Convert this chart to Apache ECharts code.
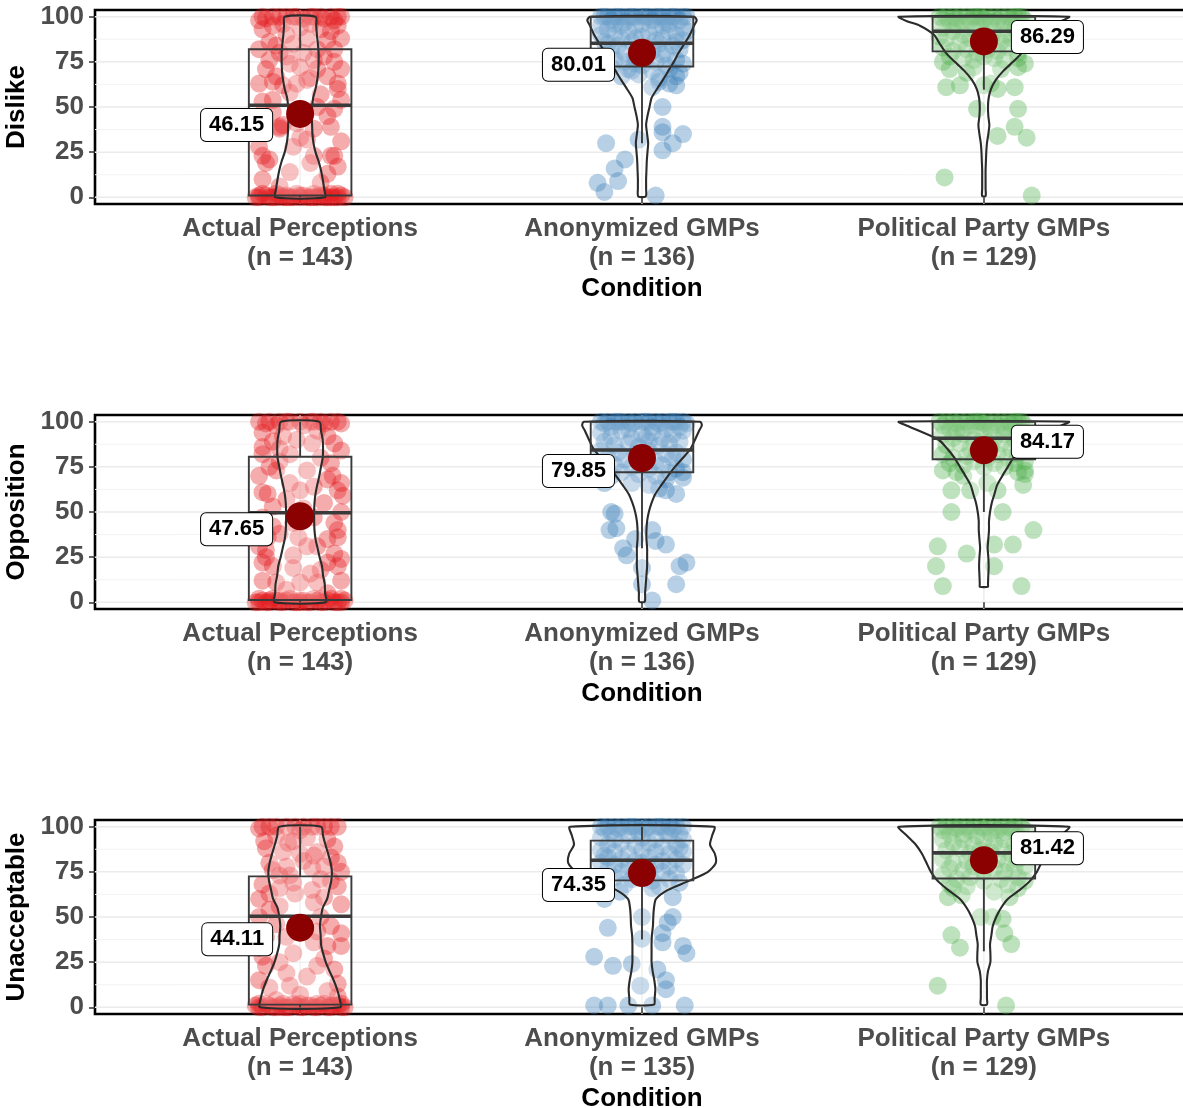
<!DOCTYPE html>
<html>
<head>
<meta charset="utf-8">
<script src="https://cdn.jsdelivr.net/npm/echarts@6/dist/echarts.min.js"></script>
<style>
  html, body { margin: 0; padding: 0; background: #ffffff; }
  #chart { width: 1183px; height: 1108px; }
</style>
</head>
<body>
<div id="chart"></div>
<script>
// ---- categories and labels ----
const conditions = ['Actual Perceptions', 'Anonymized GMPs', 'Political Party GMPs'];
const measures = ['Dislike', 'Opposition', 'Unacceptable'];
const yTicks = [0, 25, 50, 75, 100];
const yMinorTicks = [12.5, 37.5, 62.5, 87.5];

// ---- group sizes ----
const nDislike = [143, 136, 129];
const nOpposition = [143, 136, 129];
const nUnacceptable = [143, 135, 129];

// ---- group means ----
const meanDislike = [46.15, 80.01, 86.29];
const meanOpposition = [47.65, 79.85, 84.17];
const meanUnacceptable = [44.11, 74.35, 81.42];

// ---- boxplot summaries: [lower whisker, Q1, median, Q3, upper whisker] ----
const boxDislike = [[0, 1, 51, 82, 100], [30, 72.4, 85.3, 100, 100], [59.6, 80.8, 91.9, 100, 100]];
const boxOpposition = [[0, 1.3, 49.6, 80.6, 100], [30, 72, 84.3, 100, 100], [50, 79.2, 90.8, 100, 100]];
const boxUnacceptable = [[0, 1.5, 50.4, 72.5, 100], [37.5, 70.3, 81.4, 92.3, 100], [31, 71.3, 85.5, 100, 100]];

// ---- violin density profiles: [value, half width in x-axis units] ----
const violinDislikeActual = [[0,.072],[5,.070],[10,.066],[15,.061],[20,.054],[25,.045],[30,.039],[35,.036],[40,.035],[45,.034],[50,.035],[55,.038],[60,.045],[65,.050],[70,.053],[75,.054],[80,.054],[85,.052],[90,.049],[95,.047],[100,.045]];
const violinDislikeAnon = [[0.5,.011],[5,.012],[10,.012],[15,.013],[20,.014],[25,.016],[30,.018],[35,.015],[40,.012],[45,.016],[50,.022],[55,.028],[60,.044],[65,.061],[70,.077],[75,.093],[80,.107],[85,.124],[90,.140],[95,.152],[98,.160],[100,.152]];
const violinDislikeParty = [[0.7,.005],[5,.005],[10,.005],[15,.005],[20,.006],[25,.007],[30,.009],[35,.013],[40,.016],[45,.013],[50,.012],[55,.014],[60,.021],[65,.035],[70,.057],[75,.085],[80,.111],[85,.129],[90,.146],[95,.187],[97.5,.225],[100,.249]];

const violinOppositionActual = [[0,.075],[5,.073],[10,.072],[15,.067],[20,.064],[25,.057],[30,.051],[35,.045],[40,.042],[45,.041],[50,.041],[55,.042],[60,.045],[65,.050],[70,.056],[75,.061],[80,.066],[85,.067],[90,.066],[95,.061],[100,.056]];
const violinOppositionAnon = [[0.3,.008],[5,.009],[10,.011],[15,.013],[20,.015],[25,.015],[30,.015],[35,.013],[40,.013],[45,.015],[50,.020],[55,.028],[60,.039],[65,.057],[70,.076],[75,.096],[80,.120],[85,.142],[90,.155],[95,.167],[98,.175],[100,.170]];
const violinOppositionParty = [[8.6,.012],[10,.012],[15,.013],[20,.014],[25,.013],[30,.011],[35,.013],[40,.015],[45,.015],[50,.018],[55,.023],[60,.031],[65,.039],[70,.054],[75,.070],[80,.086],[85,.107],[90,.132],[95,.190],[98,.228],[100,.249]];

const violinUnacceptableActual = [[0,.117],[5,.115],[10,.108],[15,.098],[20,.086],[25,.075],[30,.067],[35,.061],[40,.060],[45,.058],[50,.061],[55,.066],[60,.079],[65,.085],[70,.091],[75,.093],[80,.089],[85,.082],[90,.074],[95,.067],[100,.061]];
const violinUnacceptableAnon = [[1.5,.035],[5,.037],[10,.039],[15,.036],[20,.031],[25,.028],[30,.028],[35,.028],[40,.029],[45,.032],[50,.033],[55,.035],[60,.041],[65,.076],[70,.137],[75,.193],[80,.216],[85,.213],[90,.199],[95,.205],[100,.211]];
const violinUnacceptableParty = [[1.5,.009],[5,.009],[10,.009],[15,.009],[20,.012],[25,.019],[30,.019],[35,.018],[40,.022],[45,.026],[50,.036],[55,.050],[60,.070],[65,.105],[70,.135],[75,.155],[80,.168],[85,.181],[90,.199],[95,.225],[100,.249]];

// ---- individual responses: [horizontal jitter, value] ----
const ptsDislikeActual = [
[-.11,100],[-.08,100],[-.04,100],[-.01,100],[.03,100],[.06,100],[.09,100],[.12,100],[-.10,99],[-.06,100],[.01,99],[.07,99],[.11,100],[-.02,100],[.04,100],[.10,98],[-.12,98],
[-.11,93],[-.08,95],[-.09,86],[-.07,84],[.09,92],[.11,95],[.08,87],[.10,82],[.12,71],[.11,63],[.11,60],[.08,67],[-.10,71],[-.12,63],[-.08,64],[-.07,67],[-.03,74],[0,72],[.02,65],[-.01,63],[.03,66],[.05,71],[-.04,78],[.04,76],[-.05,62],[-.11,53],[-.08,54],[-.06,39],[-.05,40],[.09,39],[.10,49],[.12,54],[.04,38],[.02,32],[-.11,23],[-.09,21],[-.10,19],[.03,19],[.04,23],[.10,23],[.11,17],[-.11,10],[-.03,14],[.08,13],[-.01,41],[-.06,38],[-.02,28],[.09,23],
[-.04,90],[.02,88],[.06,93],[-.02,85],[.05,82],[-.06,80],[.07,78],[-.09,76],[.10,75],[0,94],[-.05,96],[.03,96],[.12,88],[-.12,82],[.01,80],[-.03,58],[.06,57],[.08,45],[-.08,47],[.12,31],[-.12,28],[.06,8],[-.06,6],[0,33],[.05,50],
[-.12,0],[-.10,1],[-.08,0],[-.07,2],[-.05,0],[-.04,1],[-.02,0],[-.01,2],[0,0],[.01,1],[.03,0],[.04,2],[.05,0],[.07,1],[.08,0],[.09,2],[.11,0],[.12,1],[-.11,2],[-.09,0],[-.06,1],[-.03,0],[.02,0],[.06,1],[.10,0],[-.12,1],[.13,0],[-.13,0],[0,1],[-.07,0],[.07,0],[.11,2],[-.04,0],[.04,0],[.09,0]
];
const ptsDislikeAnon = [
[-.105,30],[-.01,32],[.06,39],[.06,36],[.12,35],[.09,30],[.06,26],[.06,50],[-.05,21],[-.08,16],[-.07,9],[-.13,8],[-.11,3],[.04,1],[.10,62],[.08,63],[.03,61],[.05,64],[-.03,70],[.11,69],
[-.12,100],[-.10,100],[-.08,100],[-.06,100],[-.04,100],[-.02,100],[0,100],[.02,100],[.04,100],[.06,100],[.08,100],[.10,100],[.12,100],[-.11,100],[-.07,100],[-.03,100],[.01,100],[.05,100],[.09,100],[.13,100],[-.09,98],[.03,98],[.11,98],[-.05,97],[.07,97],
[-.12,95],[-.10,93],[-.08,90],[-.06,88],[-.04,92],[-.02,95],[0,89],[.02,91],[.04,94],[.06,88],[.08,92],[.10,90],[.12,94],[-.11,86],[-.07,84],[-.03,86],[.01,83],[.05,85],[.09,84],[.12,87],[-.09,81],[-.05,80],[-.01,80],[.03,81],[.07,80],[.11,82],[-.12,90],[.13,92],[-.06,95],[0,96],[.06,95],[-.10,85],[.10,86],[-.02,88],[.04,87],[-.08,96],[.08,96],
[-.11,78],[-.08,76],[-.05,75],[-.02,74],[.01,77],[.04,75],[.07,73],[.10,76],[-.09,72],[-.04,71],[.03,70],[.08,71],[.12,74],[-.06,67],[-.01,68],[.05,66],[.10,67],[-.02,78],[.06,79],[-.12,73],[0,73]
];
const ptsDislikeParty = [
[-.115,11],[.14,1],[.04,34],[.09,39],[.125,33],[.10,49],[-.02,49],[-.11,61],[-.07,62],[0,62],[.04,60],[.09,61],[.02,63],[-.10,71],[-.05,69],[.05,71],[.10,72],[-.03,72],
[-.13,100],[-.11,100],[-.09,100],[-.07,100],[-.05,100],[-.03,100],[-.01,100],[.01,100],[.03,100],[.05,100],[.07,100],[.09,100],[.11,100],[-.12,99],[-.08,99],[-.04,98],[0,99],[.04,98],[.08,99],[.12,98],[-.10,97],[.02,97],[.06,96],[-.06,96],[-.02,100],[.10,100],
[-.12,94],[-.09,92],[-.06,90],[-.03,93],[0,91],[.03,92],[.06,90],[.09,93],[.12,91],[-.11,88],[-.07,86],[-.04,88],[-.01,85],[.02,87],[.05,86],[.08,88],[.11,85],[-.12,83],[-.09,81],[-.05,82],[-.02,80],[.01,82],[.04,81],[.07,83],[.10,80],[-.10,78],[-.06,77],[-.03,76],[0,78],[.03,77],[.06,76],[.10,77],[-.12,75],[.12,74],[-.08,95],[.08,95],[-.01,95],[.11,96],[-.13,89],[.13,88]
];

const ptsOppositionActual = [
[-.12,100],[-.09,100],[-.06,100],[-.03,100],[0,100],[.03,100],[.06,100],[.09,100],[.11,100],[-.10,99],[-.04,100],[.01,98],[.07,99],[.12,99],[-.07,98],[.04,100],
[-.11,94],[-.11,86],[-.08,89],[.08,92],[.10,88],[.12,84],[.035,88],[-.03,82],[-.11,82],[-.09,75],[-.07,73],[.095,70],[.11,62],[.125,59],[.12,66],[.08,68],[.02,73],[0,62],[-.03,66],[-.11,61],[-.095,60],[-.08,53],[-.095,36],[-.10,25],[-.11,22],[-.08,20],[-.10,29],[-.06,38],[-.005,36],[.02,31],[-.02,26],[.05,31],[.08,35],[.11,36],[.10,27],[.12,24],[.11,20],[.06,18],[.08,22],[0,11],[.05,11],[-.07,11],[-.11,12],
[-.05,92],[.05,95],[-.01,90],[.06,80],[-.06,78],[.09,77],[-.12,70],[.04,64],[-.04,57],[.07,55],[.12,50],[-.11,47],[.10,44],[-.02,44],[.04,47],[-.08,42],[.01,52],[-.12,31],[.12,12],[-.04,7],[.08,5],[.03,16],[-.02,19],[.11,40],[-.06,85],
[-.13,0],[-.11,1],[-.09,0],[-.07,1],[-.05,0],[-.03,2],[-.01,0],[.01,1],[.03,0],[.05,1],[.07,0],[.09,2],[.11,0],[.13,1],[-.12,2],[-.10,0],[-.08,2],[-.06,0],[-.04,1],[-.02,0],[0,1],[.02,0],[.04,2],[.06,0],[.08,1],[.10,0],[.12,0],[-.12,0],[.12,2],[-.06,1],[.06,2],[0,0],[-.09,1]
];
const ptsOppositionAnon = [
[.03,1],[.10,10],[0,10],[.13,22],[.11,20],[0,19],[-.045,26],[-.055,30],[-.02,35],[.03,40],[.04,34],[.07,32],[-.095,40],[-.075,41],[-.09,50],[-.08,49],[-.11,66],[.07,62],[.10,60],[.05,63],[.12,69],[.02,65],[-.03,66],
[-.12,100],[-.10,100],[-.08,100],[-.06,100],[-.04,100],[-.02,100],[0,100],[.02,100],[.04,100],[.06,100],[.08,100],[.10,100],[.12,100],[-.11,99],[-.07,100],[-.03,99],[.01,100],[.05,99],[.09,100],[.13,99],[-.09,97],[.03,97],[.11,97],
[-.12,94],[-.09,92],[-.06,95],[-.03,91],[0,93],[.03,94],[.06,91],[.09,93],[.12,95],[-.11,89],[-.08,87],[-.04,88],[-.01,86],[.02,89],[.05,87],[.08,88],[.11,89],[-.12,84],[-.07,83],[-.02,82],[.02,84],[.07,82],[.10,83],[-.10,80],[-.05,79],[0,80],[.04,78],[.09,80],[.12,79],[-.08,76],[-.03,75],[.02,74],[.06,76],[.10,74],[-.12,75],[-.06,72],[-.01,71],[.04,70],[.08,72],[.12,72],[-.09,70],[.07,68],[-.04,96],[.07,96],[.01,91]
];
const ptsOppositionParty = [
[-.12,9],[.11,9],[-.14,20],[.03,20],[-.135,31],[-.05,27],[.03,32],[.085,32],[.145,40],[-.095,50],[.055,50],[-.095,62],[-.04,62],[.04,62],[.115,65],[-.06,70],[.01,66],[.10,72],[-.08,72],[.12,71],
[-.13,100],[-.11,100],[-.09,100],[-.07,100],[-.05,100],[-.03,100],[-.01,100],[.01,100],[.03,100],[.05,100],[.07,100],[.09,100],[.11,100],[-.12,98],[-.08,99],[-.04,98],[0,99],[.04,98],[.08,99],[.12,98],[-.10,96],[.02,96],[.06,97],[-.06,96],[-.02,100],[.10,100],
[-.12,93],[-.09,91],[-.06,93],[-.03,90],[0,92],[.03,91],[.06,93],[.09,90],[.12,92],[-.11,87],[-.07,88],[-.04,85],[-.01,87],[.02,86],[.05,88],[.08,85],[.11,87],[-.12,82],[-.09,80],[-.05,81],[-.02,83],[.01,80],[.04,82],[.07,80],[.10,82],[-.10,77],[-.06,76],[-.03,78],[0,75],[.03,77],[.06,75],[.09,77],[.12,78],[-.12,73],[.12,73],[-.08,94],[.08,94],[-.01,95]
];

const ptsUnacceptableActual = [
[-.11,100],[-.07,100],[-.015,100],[.035,100],[.07,100],[.11,100],[-.09,100],[-.04,100],[.01,100],[.05,100],[.09,100],[-.12,99],[0,98],
[-.10,88],[-.105,92],[-.035,91],[-.02,92],[.04,84],[.05,86],[.10,89],[.11,80],[.12,75],[.07,78],[.035,77],[-.04,78],[-.06,73],[-.03,73],[-.11,68],[-.12,60],[-.09,63],[-.015,63],[.035,65],[.07,61],[.11,67],[.12,57],[.09,45],[.12,34],[.10,21],[.11,13],[.05,23],[.02,17],[-.04,19],[-.10,23],[-.11,28],[-.10,39],[-.12,50],[-.09,54],[-.04,39],[-.02,30],[.04,36],[.08,34],[-.09,11],[-.03,12],[.08,9],[.11,6],
[-.07,95],[.02,94],[.08,93],[-.05,86],[0,85],[.09,83],[-.09,80],[.01,81],[-.08,76],[.06,71],[-.02,69],[.09,70],[-.06,66],[.04,58],[-.06,56],[.06,50],[-.07,46],[.01,44],[.12,41],[-.12,33],[-.06,25],[.07,27],[-.12,15],[0,7],[-.07,4],[.05,42],
[-.13,1],[-.11,0],[-.09,1],[-.07,0],[-.05,2],[-.03,0],[-.01,1],[.01,0],[.03,1],[.05,0],[.07,2],[.09,0],[.11,1],[.13,0],[-.12,0],[-.10,2],[-.08,0],[-.06,1],[-.04,0],[-.02,2],[0,0],[.02,1],[.04,0],[.06,1],[.08,0],[.10,1],[.12,0],[-.12,2],[.12,2],[-.05,0],[.05,2],[0,2],[.09,1]
];
const ptsUnacceptableAnon = [
[-.14,1],[-.10,1],[-.04,1],[.03,1],[.125,1],[.07,10],[-.005,12],[.045,21],[.07,15],[-.03,24],[-.085,23],[-.14,28],[.12,34],[.13,30],[.06,36],[.06,41],[0,38],[-.10,44],[.09,50],[.075,47],[0,50],[.09,61],[-.11,60],[.03,66],[-.065,64],
[-.12,100],[-.10,100],[-.08,100],[-.06,100],[-.04,100],[-.02,100],[0,100],[.02,100],[.04,100],[.06,100],[.08,100],[.10,100],[.12,100],[-.11,99],[-.07,99],[-.03,100],[.01,99],[.05,100],[.09,99],[-.09,97],[-.01,97],[.07,97],[.11,96],
[-.12,94],[-.08,93],[-.04,95],[0,94],[.04,93],[.08,95],[.12,93],[-.10,90],[-.06,91],[-.02,90],[.02,91],[.06,89],[.10,90],[-.12,87],[-.08,86],[-.04,85],[0,87],[.04,86],[.08,85],[.12,86],[-.10,83],[-.06,82],[-.02,81],[.02,83],[.06,81],[.10,82],[-.12,80],[-.08,79],[-.04,78],[0,80],[.04,79],[.08,78],[.12,79],[-.10,76],[-.06,75],[-.02,74],[.02,76],[.06,75],[.10,74],[-.08,72],[-.03,71],[.03,70],[.08,71],[-.11,70],[.11,69],[-.05,68],[.05,67],[-.11,84],[.11,88]
];
const ptsUnacceptableParty = [
[-.135,12],[.065,1],[-.07,33],[-.095,40],[.08,35],[.06,41],[.055,49],[-.01,50],[.025,50],[-.105,61],[-.065,62],[.03,64],[.075,61],[-.09,66],[.10,66],
[-.13,100],[-.11,100],[-.09,100],[-.07,100],[-.05,100],[-.03,100],[-.01,100],[.01,100],[.03,100],[.05,100],[.07,100],[.09,100],[.11,100],[-.12,98],[-.08,99],[-.04,98],[0,99],[.04,98],[.08,99],[.12,98],[-.10,96],[.02,96],[.06,97],[-.06,96],
[-.12,93],[-.09,91],[-.06,93],[-.03,90],[0,92],[.03,91],[.06,93],[.09,90],[.12,92],[-.11,87],[-.07,88],[-.04,85],[-.01,87],[.02,86],[.05,88],[.08,85],[.11,87],[-.12,82],[-.09,80],[-.05,81],[-.02,83],[.01,80],[.04,82],[.07,80],[.10,82],[-.10,77],[-.06,76],[-.03,78],[0,75],[.03,77],[.06,75],[.09,77],[.12,78],[-.12,73],[-.08,71],[-.04,72],[0,70],[.05,71],[.10,72],[-.10,68],[-.05,67],[.07,68],[.12,70],[-.02,95],[.10,95]
];

// ---- styling ----
const FONT = '"Liberation Sans", Arial, Helvetica, sans-serif';
const pointColors = ['rgba(228,26,28,0.45)', 'rgba(55,126,184,0.45)', 'rgba(77,175,74,0.45)'];
const outline = '#2b2b2b';
const panelTops = [10, 415, 820];
const panelHeight = 194;
const boxHalfWidth = 0.15;
// vertical nudge (px) of each mean label
const meanLabelShift = [[11, 12, -4.5], [13, 13, -8.5], [11.5, 12, -12]];

const panels = [
  { measure: measures[0], n: nDislike, mean: meanDislike, box: boxDislike,
    violin: [violinDislikeActual, violinDislikeAnon, violinDislikeParty],
    pts: [ptsDislikeActual, ptsDislikeAnon, ptsDislikeParty] },
  { measure: measures[1], n: nOpposition, mean: meanOpposition, box: boxOpposition,
    violin: [violinOppositionActual, violinOppositionAnon, violinOppositionParty],
    pts: [ptsOppositionActual, ptsOppositionAnon, ptsOppositionParty] },
  { measure: measures[2], n: nUnacceptable, mean: meanUnacceptable, box: boxUnacceptable,
    violin: [violinUnacceptableActual, violinUnacceptableAnon, violinUnacceptableParty],
    pts: [ptsUnacceptableActual, ptsUnacceptableAnon, ptsUnacceptableParty] }
];

const grid = [], xAxis = [], yAxis = [], series = [];

panels.forEach((p, i) => {
  grid.push({
    left: 95, right: -6, top: panelTops[i], height: panelHeight,
    outerBoundsMode: 'none', containLabel: false,
    show: true, borderColor: '#000', borderWidth: 2.6, backgroundColor: 'transparent'
  });

  xAxis.push({
    gridIndex: i, type: 'value', min: 0.4, max: 3.6,
    axisLine: { show: false }, splitLine: { show: false },
    axisTick: { show: true, customValues: [1, 2, 3], length: 6, lineStyle: { color: '#333', width: 1.5 } },
    axisLabel: {
      customValues: [1, 2, 3], margin: 10,
      formatter: v => conditions[Math.round(v) - 1] + '\n(n = ' + p.n[Math.round(v) - 1] + ')',
      fontFamily: FONT, fontSize: 26, fontWeight: 'bold', color: '#4d4d4d', lineHeight: 29
    },
    name: 'Condition', nameLocation: 'middle', nameGap: 72,
    nameTextStyle: { fontFamily: FONT, fontSize: 26, fontWeight: 'bold', color: '#000' }
  });

  yAxis.push({
    gridIndex: i, type: 'value', min: -3.7, max: 103.7,
    axisLine: { show: false }, splitLine: { show: false },
    axisTick: { show: true, customValues: yTicks, length: 6, lineStyle: { color: '#333', width: 1.5 } },
    axisLabel: {
      customValues: yTicks, margin: 11, padding: [4, 0, 0, 0],
      fontFamily: FONT, fontSize: 26, fontWeight: 'bold', color: '#4d4d4d'
    },
    name: p.measure, nameLocation: 'middle', nameRotate: 90, nameGap: 61,
    nameTextStyle: { fontFamily: FONT, fontSize: 26, fontWeight: 'bold', color: '#000' }
  });

  // background guide lines
  const guides = [];
  yTicks.forEach(v => guides.push([2, v, 0]));
  yMinorTicks.forEach(v => guides.push([2, v, 1]));
  [1, 2, 3].forEach(x => guides.push([x, 50, 2]));
  series.push({
    type: 'custom', xAxisIndex: i, yAxisIndex: i, silent: true, z: 0,
    data: guides,
    renderItem(params, api) {
      const cs = params.coordSys;
      const kind = api.value(2);
      if (kind === 2) {
        const x = api.coord([api.value(0), 50])[0];
        return { type: 'line', shape: { x1: x, y1: cs.y, x2: x, y2: cs.y + cs.height },
                 style: { stroke: '#ebebeb', lineWidth: 1.4 } };
      }
      const y = api.coord([2, api.value(1)])[1];
      return { type: 'line', shape: { x1: cs.x, y1: y, x2: cs.x + cs.width, y2: y },
               style: { stroke: kind === 1 ? '#f3f3f3' : '#ebebeb', lineWidth: kind === 1 ? 1 : 1.5 } };
    }
  });

  // jittered responses
  p.pts.forEach((pts, g) => {
    series.push({
      type: 'scatter', xAxisIndex: i, yAxisIndex: i, z: 2, silent: true,
      symbolSize: 18, itemStyle: { color: pointColors[g] },
      data: pts.map(d => [g + 1 + d[0], d[1]])
    });
  });

  // violins
  series.push({
    type: 'custom', xAxisIndex: i, yAxisIndex: i, z: 3, silent: true,
    data: [[1, 50], [2, 50], [3, 50]],
    renderItem(params, api) {
      const cx = api.value(0);
      const prof = p.violin[cx - 1];
      const left = prof.map(d => api.coord([cx - d[1], d[0]]));
      const right = prof.slice().reverse().map(d => api.coord([cx + d[1], d[0]]));
      return { type: 'polygon', shape: { points: left.concat(right), smooth: 0.25 },
               style: { fill: 'rgba(255,255,255,0.25)', stroke: outline, lineWidth: 2.1 } };
    }
  });

  // boxplots
  series.push({
    type: 'custom', xAxisIndex: i, yAxisIndex: i, z: 4, silent: true,
    data: p.box.map((b, g) => [g + 1].concat(b)),
    renderItem(params, api) {
      const x = api.value(0);
      const lw = api.value(1), q1 = api.value(2), md = api.value(3), q3 = api.value(4), uw = api.value(5);
      const tl = api.coord([x - boxHalfWidth, q3]);
      const br = api.coord([x + boxHalfWidth, q1]);
      const cx = api.coord([x, md])[0];
      const yOf = v => api.coord([x, v])[1];
      const st = { stroke: '#3a3a3a', lineWidth: 1.9, fill: null };
      return { type: 'group', children: [
        { type: 'line', shape: { x1: cx, y1: yOf(q3), x2: cx, y2: yOf(uw) }, style: st },
        { type: 'line', shape: { x1: cx, y1: yOf(q1), x2: cx, y2: yOf(lw) }, style: st },
        { type: 'rect', shape: { x: tl[0], y: tl[1], width: br[0] - tl[0], height: br[1] - tl[1] }, style: st },
        { type: 'line', shape: { x1: tl[0], y1: yOf(md), x2: br[0], y2: yOf(md) },
          style: { stroke: '#3a3a3a', lineWidth: 3.6 } }
      ] };
    }
  });

  // group means with value labels
  series.push({
    type: 'scatter', xAxisIndex: i, yAxisIndex: i, z: 5, silent: true,
    symbolSize: 28, itemStyle: { color: '#8b0000', opacity: 1 },
    data: p.mean.map((m, g) => ({
      value: [g + 1, m],
      label: { position: g === 2 ? 'right' : 'left', offset: [0, meanLabelShift[i][g]] }
    })),
    label: {
      show: true, distance: 14,
      formatter: d => d.value[1].toFixed(2),
      fontFamily: FONT, fontSize: 22, fontWeight: 'bold', color: '#000', lineHeight: 24,
      backgroundColor: '#fff', borderColor: '#000', borderWidth: 1, borderRadius: 5,
      padding: [4, 8, 4, 8]
    }
  });
});

const chart = echarts.init(document.getElementById('chart'), null, { renderer: 'canvas' });
chart.setOption({ animation: false, grid, xAxis, yAxis, series });
</script>
</body>
</html>
